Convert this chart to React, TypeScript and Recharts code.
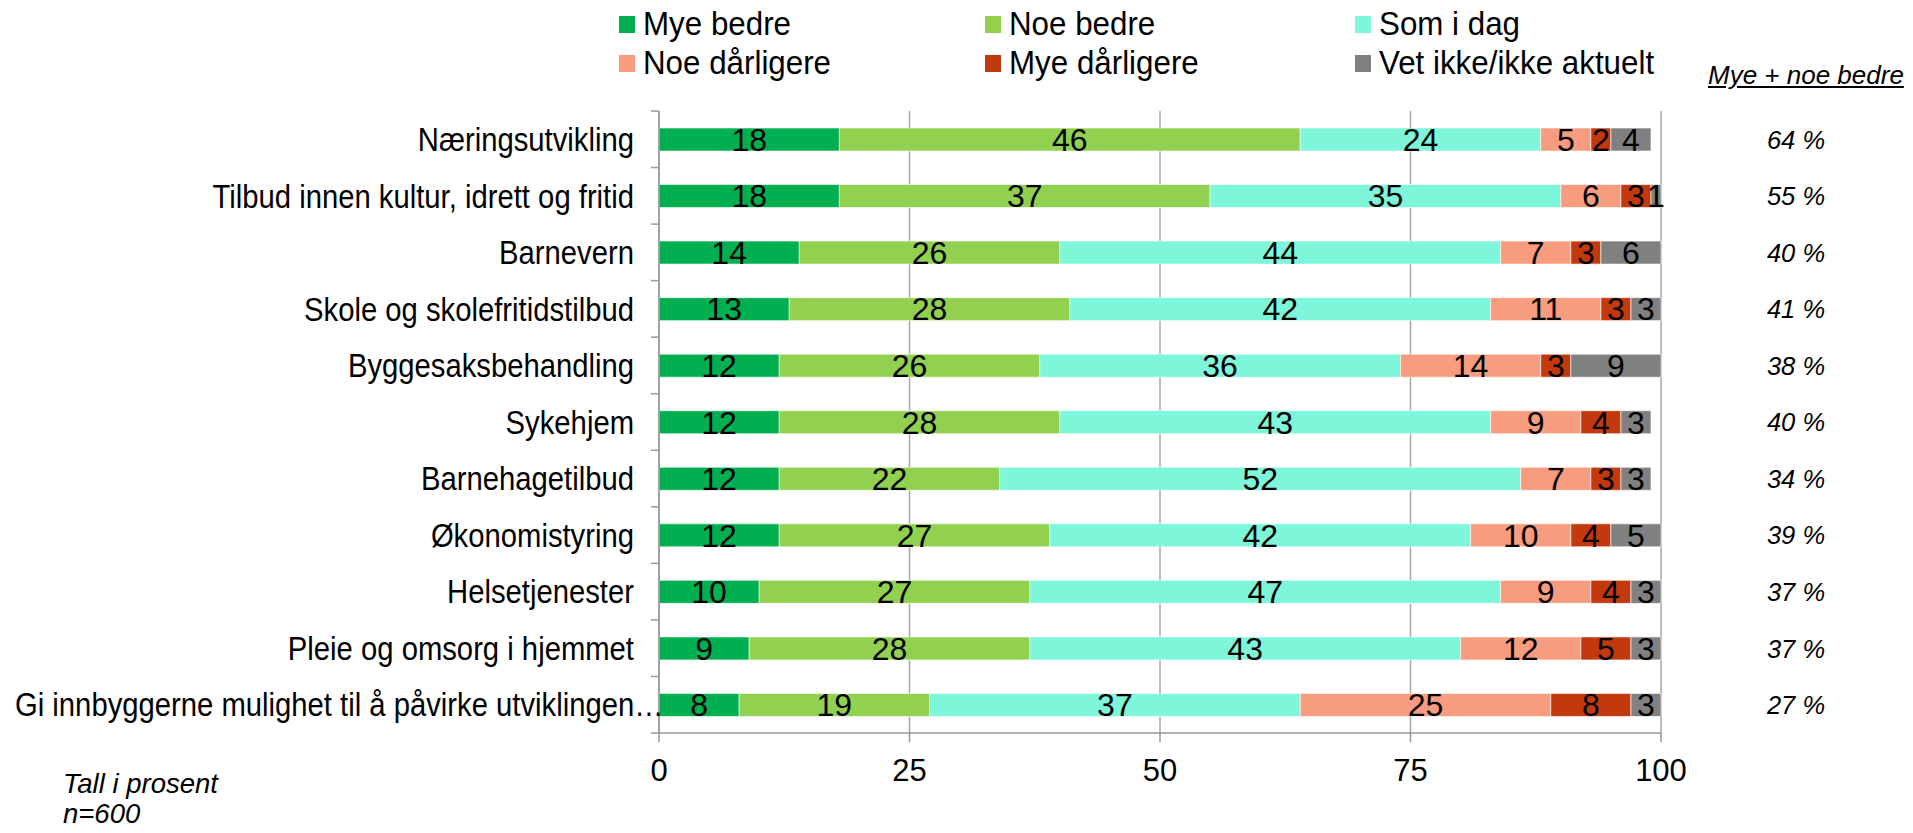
import React from 'react';
import { BarChart, Bar, XAxis, YAxis, CartesianGrid, LabelList } from 'recharts';

const categories = [
  'Næringsutvikling',
  'Tilbud innen kultur, idrett og fritid',
  'Barnevern',
  'Skole og skolefritidstilbud',
  'Byggesaksbehandling',
  'Sykehjem',
  'Barnehagetilbud',
  'Økonomistyring',
  'Helsetjenester',
  'Pleie og omsorg i hjemmet',
  'Gi innbyggerne mulighet til å påvirke utviklingen…',
];

const myeBedre = [18, 18, 14, 13, 12, 12, 12, 12, 10, 9, 8];
const noeBedre = [46, 37, 26, 28, 26, 28, 22, 27, 27, 28, 19];
const somIDag = [24, 35, 44, 42, 36, 43, 52, 42, 47, 43, 37];
const noeDarligere = [5, 6, 7, 11, 14, 9, 7, 10, 9, 12, 25];
const myeDarligere = [2, 3, 3, 3, 3, 4, 3, 4, 4, 5, 8];
const vetIkke = [4, 1, 6, 3, 9, 3, 3, 5, 3, 3, 3];
const myeNoeBedre = [64, 55, 40, 41, 38, 40, 34, 39, 37, 37, 27];
const xTicks = [0, 25, 50, 75, 100];

const series = [
  { key: 'myeBedre', name: 'Mye bedre', color: '#00B050', values: myeBedre },
  { key: 'noeBedre', name: 'Noe bedre', color: '#92D050', values: noeBedre },
  { key: 'somIDag', name: 'Som i dag', color: '#7DF6D9', values: somIDag },
  { key: 'noeDarligere', name: 'Noe dårligere', color: '#F79C7E', values: noeDarligere },
  { key: 'myeDarligere', name: 'Mye dårligere', color: '#C3390E', values: myeDarligere },
  { key: 'vetIkke', name: 'Vet ikke/ikke aktuelt', color: '#808080', values: vetIkke },
];

const data = categories.map((name, i) => {
  const row: Record<string, any> = { name, bedre: myeNoeBedre[i] };
  series.forEach((s) => {
    row[s.key] = s.values[i];
  });
  return row;
});

const W = 1913;
const H = 833;
const TOP = 111;
const BOTTOM = 100; // axis line sits at H - BOTTOM
const X_AXIS_H = 30;
const AXIS_X = 659;
const BAND = (H - TOP - BOTTOM) / categories.length;
const FONT = "'Liberation Sans', Arial, sans-serif";
const AXIS = '#999999';
const LABEL_SCALE = 0.9;

const legendCols = [619, 985, 1355];
const legendRows = [24, 63];

// category label + Excel-style ticks between categories
const CategoryTick = (props: any) => {
  const { x, y, payload, index } = props;
  const half = BAND / 2;
  // the long truncated label starts at the left edge, like the original
  const long = String(payload.value).length > 40;
  const tx = long ? 15 : x;
  return (
    <g>
      <line x1={AXIS_X - 8} x2={AXIS_X} y1={y - half} y2={y - half} stroke={AXIS} strokeWidth={1.5} />
      {index === categories.length - 1 && (
        <line x1={AXIS_X - 8} x2={AXIS_X} y1={y + half} y2={y + half} stroke={AXIS} strokeWidth={1.5} />
      )}
      <g transform={`translate(${tx},${y}) scale(${LABEL_SCALE},1)`}>
        <text
          x={0}
          y={0}
          dy="0.36em"
          textAnchor={long ? 'start' : 'end'}
          fontSize={32.5}
          fontFamily={FONT}
          fill="#000"
        >
          {payload.value}
        </text>
      </g>
    </g>
  );
};

const BedreLabel = (props: any) => {
  const { y, height, value } = props;
  return (
    <text
      x={1796}
      y={y + height / 2}
      dy="0.36em"
      textAnchor="middle"
      fontSize={25.5}
      fontStyle="italic"
      fontFamily={FONT}
      fill="#000"
    >
      {`${value} %`}
    </text>
  );
};

export default function App() {
  return (
    <div style={{ position: 'absolute', left: 0, top: 0, width: W, height: H, background: '#fff', fontFamily: FONT, overflow: 'hidden' }}>
      <BarChart
        width={W}
        height={H}
        data={data}
        layout="vertical"
        margin={{ top: TOP, right: W - 1661, bottom: BOTTOM - X_AXIS_H, left: 0 }}
        barSize={23}
      >
        <CartesianGrid horizontal={false} stroke="#A6A6A6" strokeWidth={1.5} />
        <XAxis
          type="number"
          domain={[0, 100]}
          ticks={xTicks}
          height={X_AXIS_H}
          axisLine={{ stroke: AXIS, strokeWidth: 1.5 }}
          tickLine={{ stroke: AXIS, strokeWidth: 1.5 }}
          tickSize={9}
          tickMargin={17}
          tick={{ fill: '#000', fontSize: 31, fontFamily: FONT }}
          interval={0}
        />
        <YAxis
          type="category"
          dataKey="name"
          width={AXIS_X}
          axisLine={{ stroke: AXIS, strokeWidth: 1.5 }}
          tickLine={false}
          tickSize={8}
          tickMargin={17}
          tick={<CategoryTick />}
          interval={0}
        />
        {series.map((s, i) => (
          <Bar
            key={s.key}
            dataKey={s.key}
            name={s.name}
            stackId="a"
            fill={s.color}
            stroke="#ffffff"
            strokeWidth={0.6}
            isAnimationActive={false}
          >
            <LabelList dataKey={s.key} position="center" fill="#000" fontSize={32} fontFamily={FONT} />
            {i === series.length - 1 && <LabelList dataKey="bedre" content={<BedreLabel />} />}
          </Bar>
        ))}
      </BarChart>

      {series.map((s, i) => (
        <div
          key={s.key}
          style={{
            position: 'absolute',
            left: legendCols[i % 3],
            top: legendRows[Math.floor(i / 3)] - 20,
            height: 40,
            display: 'flex',
            alignItems: 'center',
            whiteSpace: 'nowrap',
            color: '#000',
          }}
        >
          <span style={{ display: 'inline-block', width: 16, height: 17, background: s.color, marginRight: 8 }} />
          <span style={{ display: 'inline-block', fontSize: 33.5, transform: 'scaleX(0.935)', transformOrigin: 'left center' }}>
            {s.name}
          </span>
        </div>
      ))}

      <div
        style={{
          position: 'absolute',
          left: 1708,
          top: 60,
          fontSize: 26,
          fontStyle: 'italic',
          textDecoration: 'underline',
          lineHeight: '30px',
          whiteSpace: 'nowrap',
        }}
      >
        Mye + noe bedre
      </div>

      <div
        style={{
          position: 'absolute',
          left: 63,
          top: 769,
          fontSize: 27.5,
          fontStyle: 'italic',
          lineHeight: '30px',
          whiteSpace: 'nowrap',
        }}
      >
        <div>Tall i prosent</div>
        <div>n=600</div>
      </div>
    </div>
  );
}
